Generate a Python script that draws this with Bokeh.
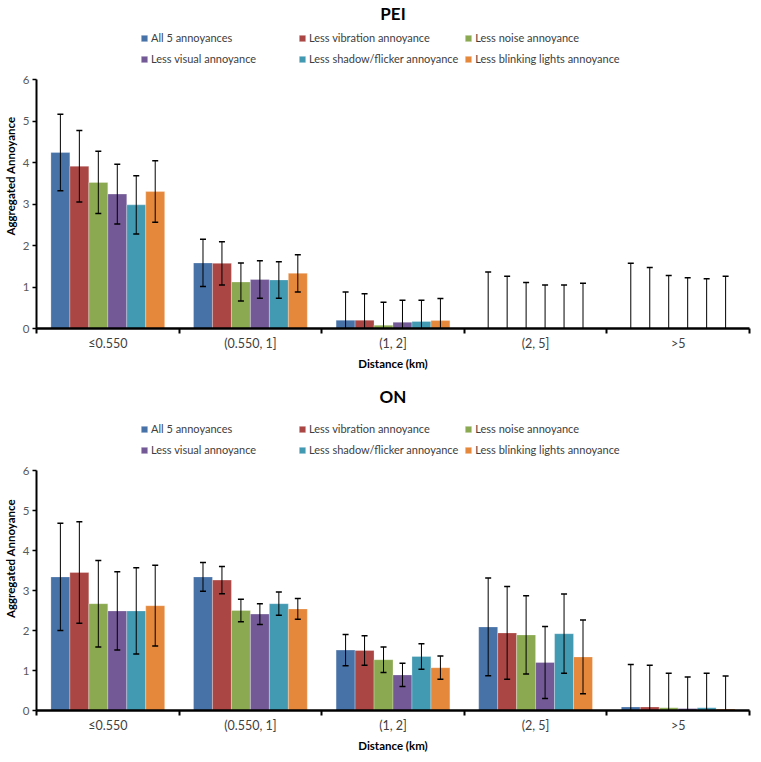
from bokeh.plotting import figure
from bokeh.models import Range1d, FixedTicker, Legend, LegendItem, ColumnDataSource
from bokeh.layouts import column
from bokeh.embed import file_html
from bokeh.resources import INLINE

categories = ["≤0.550", "(0.550, 1]", "(1, 2]", "(2, 5]", ">5"]
series_names = [
    "All 5 annoyances",
    "Less vibration annoyance",
    "Less noise annoyance",
    "Less visual annoyance",
    "Less shadow/flicker annoyance",
    "Less blinking lights annoyance",
]
colors = ["#4672A8", "#AA4744", "#8BA950", "#735A96", "#4299B2", "#E5883C"]

# PEI: mean per series (rows) and category (columns)
pei_means = [
    [4.24, 1.58, 0.20, 0.00, 0.00],
    [3.91, 1.57, 0.20, 0.00, 0.00],
    [3.52, 1.12, 0.08, 0.00, 0.00],
    [3.24, 1.18, 0.15, 0.00, 0.00],
    [2.98, 1.17, 0.17, 0.00, 0.00],
    [3.30, 1.33, 0.19, 0.00, 0.00],
]
pei_errors = [
    [0.92, 0.57, 0.68, 1.36, 1.57],
    [0.86, 0.52, 0.64, 1.26, 1.47],
    [0.75, 0.46, 0.55, 1.11, 1.28],
    [0.72, 0.45, 0.53, 1.05, 1.22],
    [0.70, 0.44, 0.51, 1.05, 1.20],
    [0.74, 0.45, 0.53, 1.09, 1.26],
]

# ON
on_means = [
    [3.34, 3.34, 1.51, 2.09, 0.09],
    [3.45, 3.26, 1.50, 1.94, 0.09],
    [2.67, 2.50, 1.27, 1.89, 0.07],
    [2.49, 2.41, 0.89, 1.20, 0.05],
    [2.49, 2.67, 1.35, 1.92, 0.07],
    [2.62, 2.54, 1.07, 1.34, 0.04],
]
on_errors = [
    [1.34, 0.36, 0.39, 1.22, 1.06],
    [1.27, 0.34, 0.37, 1.16, 1.04],
    [1.08, 0.28, 0.32, 0.98, 0.86],
    [0.98, 0.26, 0.29, 0.90, 0.79],
    [1.08, 0.29, 0.32, 0.99, 0.86],
    [1.01, 0.26, 0.29, 0.92, 0.82],
]

y_ticks = [0, 1, 2, 3, 4, 5, 6]
FONT = "Lato"
BAR_W = 0.133
FRAME_W = 713


def make_chart(title, means, errors, frame_h, axis_px, border_bottom):
    y_max = y_ticks[-1]
    y_end = y_max * frame_h / axis_px   # room above the axis for the legend
    p = figure(frame_width=FRAME_W, frame_height=frame_h, title=title,
               x_range=Range1d(0, len(categories)), y_range=Range1d(0, y_end),
               output_backend="svg", toolbar_location=None, tools="",
               min_border_left=30, min_border_right=2,
               min_border_top=0, min_border_bottom=border_bottom)
    p.outline_line_color = None
    p.xgrid.grid_line_color = None
    p.ygrid.grid_line_color = None

    p.title.align = "center"
    p.title.text_font = FONT
    p.title.text_font_size = "17px"
    p.title.text_font_style = "bold"
    p.title.text_color = "#000000"
    p.title.standoff = 0

    items = []
    n = len(series_names)
    for j, name in enumerate(series_names):
        xs = [i + 0.5 + (j - (n - 1) / 2) * BAR_W for i in range(len(categories))]
        tops = means[j]
        hi = [m + e for m, e in zip(means[j], errors[j])]
        lo = [m - e for m, e in zip(means[j], errors[j])]
        src = ColumnDataSource(dict(x=xs, top=tops, hi=hi, lo=lo))
        r = p.vbar(x="x", top="top", width=BAR_W, source=src,
                   fill_color=colors[j], line_color="#ffffff", line_alpha=0.35, line_width=0.8)
        p.segment(x0="x", y0="lo", x1="x", y1="hi", source=src,
                  line_color="#000000", line_width=1)
        p.scatter(x="x", y="hi", source=src, marker="dash", size=6,
                  line_color="#000000", line_width=1.5)
        p.scatter(x="x", y="lo", source=src, marker="dash", size=6,
                  line_color="#000000", line_width=1.5)
        items.append(LegendItem(label=name, renderers=[r]))

    legend = Legend(items=items, orientation="horizontal", ncols=3,
                    glyph_width=8, glyph_height=8, label_height=15,
                    label_width=141, label_standoff=3, spacing=6,
                    padding=5, margin=0, location=(104, axis_px + 13),
                    border_line_color=None, background_fill_alpha=0,
                    label_text_font=FONT, label_text_font_size="11px",
                    label_text_color="#404040")
    p.add_layout(legend, "center")

    # x axis: labels at category centres, ticks at category boundaries
    xa = p.xaxis[0]
    xa.ticker = FixedTicker(ticks=[i + 0.5 for i in range(len(categories))],
                            minor_ticks=list(range(len(categories) + 1)))
    xa.major_label_overrides = {i + 0.5: c for i, c in enumerate(categories)}
    xa.major_tick_out = 0
    xa.major_tick_in = 0
    xa.minor_tick_out = 5
    xa.minor_tick_in = 0
    xa.minor_tick_line_color = "#000000"
    xa.minor_tick_line_width = 2
    xa.axis_line_color = "#000000"
    xa.axis_line_width = 2.5
    xa.major_label_standoff = 2
    xa.major_label_text_font = FONT
    xa.major_label_text_font_size = "12.5px"
    xa.major_label_text_color = "#404040"
    xa.axis_label = "Distance (km)"
    xa.axis_label_text_font = FONT
    xa.axis_label_text_font_size = "11.5px"
    xa.axis_label_text_font_style = "bold"
    xa.axis_label_text_color = "#000000"
    xa.axis_label_standoff = 3

    ya = p.yaxis[0]
    ya.bounds = (y_ticks[0], y_max)
    ya.ticker = FixedTicker(ticks=y_ticks, minor_ticks=[])
    ya.major_tick_out = 4
    ya.major_tick_in = 0
    ya.major_tick_line_color = "#000000"
    ya.major_tick_line_width = 1.5
    ya.minor_tick_line_color = None
    ya.axis_line_color = "#000000"
    ya.axis_line_width = 2
    ya.major_label_standoff = 3
    ya.major_label_text_font = FONT
    ya.major_label_text_font_size = "11.5px"
    ya.major_label_text_color = "#595959"
    ya.axis_label = "Aggregated Annoyance"
    ya.axis_label_text_font = FONT
    ya.axis_label_text_font_size = "11.5px"
    ya.axis_label_text_font_style = "bold"
    ya.axis_label_text_color = "#000000"
    ya.axis_label_standoff = 3
    return p


p1 = make_chart("PEI", pei_means, pei_errors, 305, 249, 55)
p2 = make_chart("ON", on_means, on_errors, 304, 240, 0)
layout = column(p1, p2, spacing=0)

open("out.html", "w").write(file_html(layout, INLINE))
